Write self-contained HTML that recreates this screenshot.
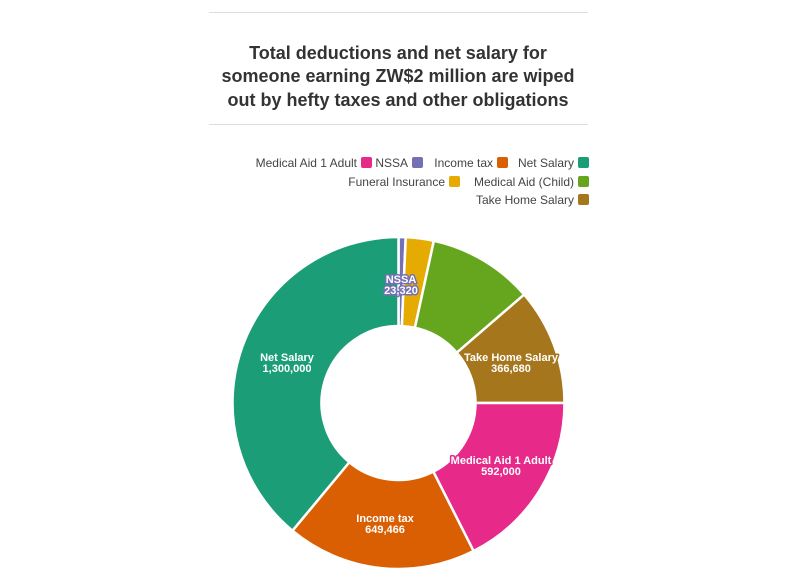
<!DOCTYPE html>
<html><head><meta charset="utf-8"><style>
body{margin:0;background:#fff;width:796px;height:575px;overflow:hidden;font-family:"Liberation Sans",sans-serif}
svg{position:absolute;left:0;top:0}
.lg{font-size:12px;fill:#444}
.lb{font-size:11px;font-weight:bold;fill:#fff;text-anchor:middle;paint-order:stroke;stroke-width:3px;stroke-linejoin:round}
</style></head><body>
<svg width="796" height="575" id="s">
<line x1="209" y1="12.5" x2="588" y2="12.5" stroke="#ddd"/>
<line x1="209" y1="124.5" x2="588" y2="124.5" stroke="#ddd"/>
<g font-weight="bold" font-size="18px" fill="#333" text-anchor="middle">
<text x="398" y="59">Total deductions and net salary for</text>
<text x="398" y="82">someone earning ZW$2 million are wiped</text>
<text x="398" y="106">out by hefty taxes and other obligations</text>
</g>
<g class="lg" text-anchor="end">
<text x="357" y="167">Medical Aid 1 Adult</text>
<text x="408" y="167">NSSA</text>
<text x="493" y="167">Income tax</text>
<text x="574" y="167">Net Salary</text>
<text x="445" y="186">Funeral Insurance</text>
<text x="574" y="186">Medical Aid (Child)</text>
<text x="574" y="204">Take Home Salary</text>
</g>
<rect x="361" y="157" width="11" height="11" rx="2" fill="#e7298a"/>
<rect x="412" y="157" width="11" height="11" rx="2" fill="#7570b3"/>
<rect x="497" y="157" width="11" height="11" rx="2" fill="#d95f02"/>
<rect x="578" y="157" width="11" height="11" rx="2" fill="#1b9e77"/>
<rect x="449" y="176" width="11" height="11" rx="2" fill="#e6ab02"/>
<rect x="578" y="176" width="11" height="11" rx="2" fill="#66a61e"/>
<rect x="578" y="194" width="11" height="11" rx="2" fill="#a6761d"/>
<g id="pie"></g>
<g class="lb">
<text x="401" y="283" stroke="#7570b3">NSSA</text><text x="401" y="294" stroke="#7570b3">23,320</text>
<text x="511" y="361" stroke="#a6761d">Take Home Salary</text><text x="511" y="372" stroke="#a6761d">366,680</text>
<text x="501" y="464" stroke="#e7298a">Medical Aid 1 Adult</text><text x="501" y="475" stroke="#e7298a">592,000</text>
<text x="385" y="522" stroke="#d95f02">Income tax</text><text x="385" y="533" stroke="#d95f02">649,466</text>
<text x="287" y="361" stroke="#1b9e77">Net Salary</text><text x="287" y="372" stroke="#1b9e77">1,300,000</text>
</g>
</svg>
<script>
var cx=398.5,cy=403,R=166,r=77;
var sl=[[0,2.5,"#7570b3"],[2.5,12.3,"#e6ab02"],[12.3,49.2,"#66a61e"],[49.2,90,"#a6761d"],[90,153.1,"#e7298a"],[153.1,219.7,"#d95f02"],[219.7,360,"#1b9e77"]];
function p(a,rr){a=a*Math.PI/180;return (cx+rr*Math.sin(a)).toFixed(2)+" "+(cy-rr*Math.cos(a)).toFixed(2);}
var g=document.getElementById("pie"),h="";
sl.forEach(function(s){var l=(s[1]-s[0])>180?1:0;
h+='<path d="M'+p(s[0],R)+' A'+R+' '+R+' 0 '+l+' 1 '+p(s[1],R)+' L'+p(s[1],r)+' A'+r+' '+r+' 0 '+l+' 0 '+p(s[0],r)+' Z" fill="'+s[2]+'" stroke="#fff" stroke-width="2.5" stroke-linejoin="round"/>';});
g.innerHTML=h;
</script>
</body></html>
